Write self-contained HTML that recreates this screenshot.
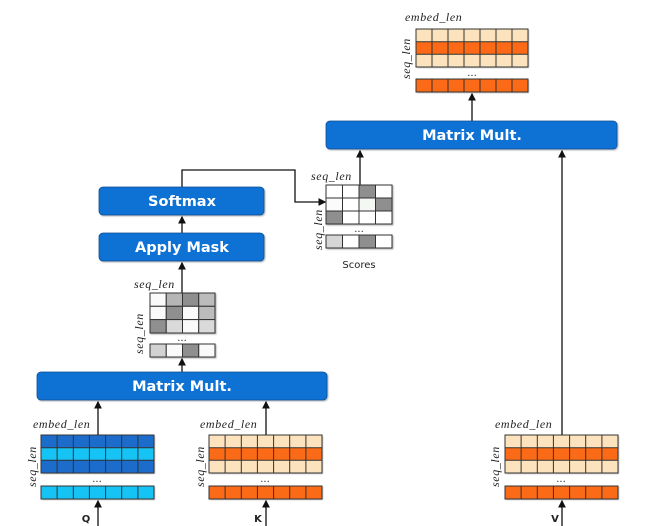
<!DOCTYPE html>
<html><head><meta charset="utf-8"><style>
html,body{margin:0;padding:0;background:#fff;width:654px;height:526px;overflow:hidden}
svg{display:block}
.lab{font-family:"Liberation Serif",serif;font-style:italic;font-size:12px;letter-spacing:0.6px;fill:#222}
.bt{font-family:"DejaVu Sans","Liberation Sans",sans-serif;font-weight:bold;font-size:14.5px;fill:#fff}
.sm{font-family:"DejaVu Sans","Liberation Sans",sans-serif;font-size:10px;fill:#222}
.g{stroke:#333;stroke-width:1;fill:none}
</style></head><body>
<svg width="654" height="526" viewBox="0 0 654 526" xmlns="http://www.w3.org/2000/svg">
<defs>
<marker id="ar" markerWidth="6" markerHeight="6" refX="5" refY="3" orient="auto"><path d="M0,0 L6,3 L0,6 z" fill="#111"/></marker>
<filter id="sh"><feDropShadow dx="1" dy="1" stdDeviation="0.8" flood-color="#000" flood-opacity="0.3"/></filter>
</defs>

<g stroke="#111" stroke-width="1.3" fill="none">
<line x1="472" y1="121" x2="472" y2="94" marker-end="url(#ar)"/>
<line x1="360" y1="185" x2="360" y2="151" marker-end="url(#ar)"/>
<line x1="562" y1="435" x2="562" y2="151" marker-end="url(#ar)"/>
<line x1="562" y1="526" x2="562" y2="501" marker-end="url(#ar)"/>
<polyline points="182,187 182,170 295,170 295,202 325,202" marker-end="url(#ar)"/>
<line x1="182" y1="233" x2="182" y2="217" marker-end="url(#ar)"/>
<line x1="182" y1="293" x2="182" y2="263" marker-end="url(#ar)"/>
<line x1="182" y1="372" x2="182" y2="359" marker-end="url(#ar)"/>
<line x1="98" y1="435" x2="98" y2="402" marker-end="url(#ar)"/>
<line x1="266" y1="435" x2="266" y2="402" marker-end="url(#ar)"/>
<line x1="98" y1="526" x2="98" y2="501" marker-end="url(#ar)"/>
<line x1="266" y1="526" x2="266" y2="501" marker-end="url(#ar)"/>
</g>

<g filter="url(#sh)" fill="#0b72d4" stroke="#0a4f96" stroke-width="0.8">
<rect x="326" y="121" width="291" height="28" rx="4"/>
<rect x="99" y="187" width="165" height="28" rx="4"/>
<rect x="99" y="233" width="165" height="28" rx="4"/>
<rect x="37" y="372" width="290" height="28" rx="4"/>
</g>
<text class="bt" x="472" y="140" text-anchor="middle">Matrix Mult.</text>
<text class="bt" x="182" y="206" text-anchor="middle">Softmax</text>
<text class="bt" x="182" y="252" text-anchor="middle">Apply Mask</text>
<text class="bt" x="182" y="391" text-anchor="middle">Matrix Mult.</text>

<g filter="url(#sh)">
<rect x="41" y="435" width="113" height="12.7" fill="#1a6ccc"/>
<rect x="41" y="447.7" width="113" height="12.6" fill="#12c3f5"/>
<rect x="41" y="460.3" width="113" height="12.7" fill="#1a6ccc"/>
<rect x="41" y="486" width="113" height="13" fill="#12c3f5"/>
</g>
<g class="g">
<rect x="41" y="435" width="113" height="38"/><line x1="41" y1="447.7" x2="154" y2="447.7"/><line x1="41" y1="460.3" x2="154" y2="460.3"/>
<path d="M57.1,435V473M73.3,435V473M89.4,435V473M105.6,435V473M121.7,435V473M137.9,435V473"/>
<rect x="41" y="486" width="113" height="13"/>
<path d="M57.1,486V499M73.3,486V499M89.4,486V499M105.6,486V499M121.7,486V499M137.9,486V499"/>
</g>

<g filter="url(#sh)">
<rect x="209" y="435" width="113" height="12.7" fill="#fde3bd"/>
<rect x="209" y="447.7" width="113" height="12.6" fill="#fb6a12"/>
<rect x="209" y="460.3" width="113" height="12.7" fill="#fde3bd"/>
<rect x="209" y="486" width="113" height="13" fill="#fb6a12"/>
</g>
<g class="g">
<rect x="209" y="435" width="113" height="38"/><line x1="209" y1="447.7" x2="322" y2="447.7"/><line x1="209" y1="460.3" x2="322" y2="460.3"/>
<path d="M225.1,435V473M241.3,435V473M257.4,435V473M273.6,435V473M289.7,435V473M305.9,435V473"/>
<rect x="209" y="486" width="113" height="13"/>
<path d="M225.1,486V499M241.3,486V499M257.4,486V499M273.6,486V499M289.7,486V499M305.9,486V499"/>
</g>

<g filter="url(#sh)">
<rect x="505" y="435" width="113" height="12.7" fill="#fde3bd"/>
<rect x="505" y="447.7" width="113" height="12.6" fill="#fb6a12"/>
<rect x="505" y="460.3" width="113" height="12.7" fill="#fde3bd"/>
<rect x="505" y="486" width="113" height="13" fill="#fb6a12"/>
</g>
<g class="g">
<rect x="505" y="435" width="113" height="38"/><line x1="505" y1="447.7" x2="618" y2="447.7"/><line x1="505" y1="460.3" x2="618" y2="460.3"/>
<path d="M521.1,435V473M537.3,435V473M553.4,435V473M569.6,435V473M585.7,435V473M601.9,435V473"/>
<rect x="505" y="486" width="113" height="13"/>
<path d="M521.1,486V499M537.3,486V499M553.4,486V499M569.6,486V499M585.7,486V499M601.9,486V499"/>
</g>

<g filter="url(#sh)">
<rect x="416" y="29" width="112" height="12.7" fill="#fde3bd"/>
<rect x="416" y="41.7" width="112" height="12.6" fill="#fb6a12"/>
<rect x="416" y="54.3" width="112" height="12.7" fill="#fde3bd"/>
<rect x="416" y="79" width="112" height="13" fill="#fb6a12"/>
</g>
<g class="g">
<rect x="416" y="29" width="112" height="38"/><line x1="416" y1="41.7" x2="528" y2="41.7"/><line x1="416" y1="54.3" x2="528" y2="54.3"/>
<path d="M432,29V67M448,29V67M464,29V67M480,29V67M496,29V67M512,29V67"/>
<rect x="416" y="79" width="112" height="13"/>
<path d="M432,79V92M448,79V92M464,79V92M480,79V92M496,79V92M512,79V92"/>
</g>

<g filter="url(#sh)" stroke="#333" stroke-width="1">
<rect x="150" y="293" width="16.25" height="13.3" fill="#fafafa"/><rect x="166.25" y="293" width="16.25" height="13.3" fill="#b5b5b5"/><rect x="182.5" y="293" width="16.25" height="13.3" fill="#8f8f8f"/><rect x="198.75" y="293" width="16.25" height="13.3" fill="#bcbcbc"/>
<rect x="150" y="306.3" width="16.25" height="13.3" fill="#fafafa"/><rect x="166.25" y="306.3" width="16.25" height="13.3" fill="#8f8f8f"/><rect x="182.5" y="306.3" width="16.25" height="13.3" fill="#fafafa"/><rect x="198.75" y="306.3" width="16.25" height="13.3" fill="#bcbcbc"/>
<rect x="150" y="319.6" width="16.25" height="13.4" fill="#8f8f8f"/><rect x="166.25" y="319.6" width="16.25" height="13.4" fill="#dadada"/><rect x="182.5" y="319.6" width="16.25" height="13.4" fill="#fafafa"/><rect x="198.75" y="319.6" width="16.25" height="13.4" fill="#dadada"/>
<rect x="150" y="344" width="16.25" height="13" fill="#d2d2d2"/><rect x="166.25" y="344" width="16.25" height="13" fill="#fafafa"/><rect x="182.5" y="344" width="16.25" height="13" fill="#8f8f8f"/><rect x="198.75" y="344" width="16.25" height="13" fill="#fafafa"/>
</g>

<g filter="url(#sh)" stroke="#333" stroke-width="1">
<rect x="326" y="185" width="16.5" height="13" fill="#fff"/><rect x="342.5" y="185" width="16.5" height="13" fill="#fff"/><rect x="359" y="185" width="16.5" height="13" fill="#8f8f8f"/><rect x="375.5" y="185" width="16.5" height="13" fill="#fff"/>
<rect x="326" y="198" width="16.5" height="13" fill="#fbfbfb"/><rect x="342.5" y="198" width="16.5" height="13" fill="#fff"/><rect x="359" y="198" width="16.5" height="13" fill="#f4f8f4"/><rect x="375.5" y="198" width="16.5" height="13" fill="#8f8f8f"/>
<rect x="326" y="211" width="16.5" height="13" fill="#8f8f8f"/><rect x="342.5" y="211" width="16.5" height="13" fill="#fff"/><rect x="359" y="211" width="16.5" height="13" fill="#fff"/><rect x="375.5" y="211" width="16.5" height="13" fill="#fff"/>
<rect x="326" y="235" width="16.5" height="13" fill="#d6d6d6"/><rect x="342.5" y="235" width="16.5" height="13" fill="#fff"/><rect x="359" y="235" width="16.5" height="13" fill="#8f8f8f"/><rect x="375.5" y="235" width="16.5" height="13" fill="#fff"/>
</g>

<g class="sm" font-size="8" text-anchor="middle" fill="#666">
<text x="97" y="482">...</text><text x="265" y="482">...</text><text x="561" y="482">...</text>
<text x="472" y="76">...</text><text x="182" y="341">...</text><text x="359" y="232">...</text>
</g>

<text class="lab" x="33" y="428">embed_len</text>
<text class="lab" x="200" y="428">embed_len</text>
<text class="lab" x="495" y="428">embed_len</text>
<text class="lab" x="405" y="21">embed_len</text>
<text class="lab" x="134" y="288">seq_len</text>
<text class="lab" x="311" y="180">seq_len</text>
<text class="lab" transform="translate(36,487) rotate(-90)">seq_len</text>
<text class="lab" transform="translate(204,487) rotate(-90)">seq_len</text>
<text class="lab" transform="translate(499,487) rotate(-90)">seq_len</text>
<text class="lab" transform="translate(410,79) rotate(-90)">seq_len</text>
<text class="lab" transform="translate(143,354) rotate(-90)">seq_len</text>
<text class="lab" transform="translate(322,250) rotate(-90)">seq_len</text>

<text class="sm" x="359" y="268" text-anchor="middle" font-size="11.5">Scores</text>
<text class="sm" x="86" y="522" text-anchor="middle" font-weight="bold" font-size="12">Q</text>
<text class="sm" x="258" y="522" text-anchor="middle" font-weight="bold" font-size="12">K</text>
<text class="sm" x="555" y="522" text-anchor="middle" font-weight="bold" font-size="12">V</text>
</svg>
</body></html>
